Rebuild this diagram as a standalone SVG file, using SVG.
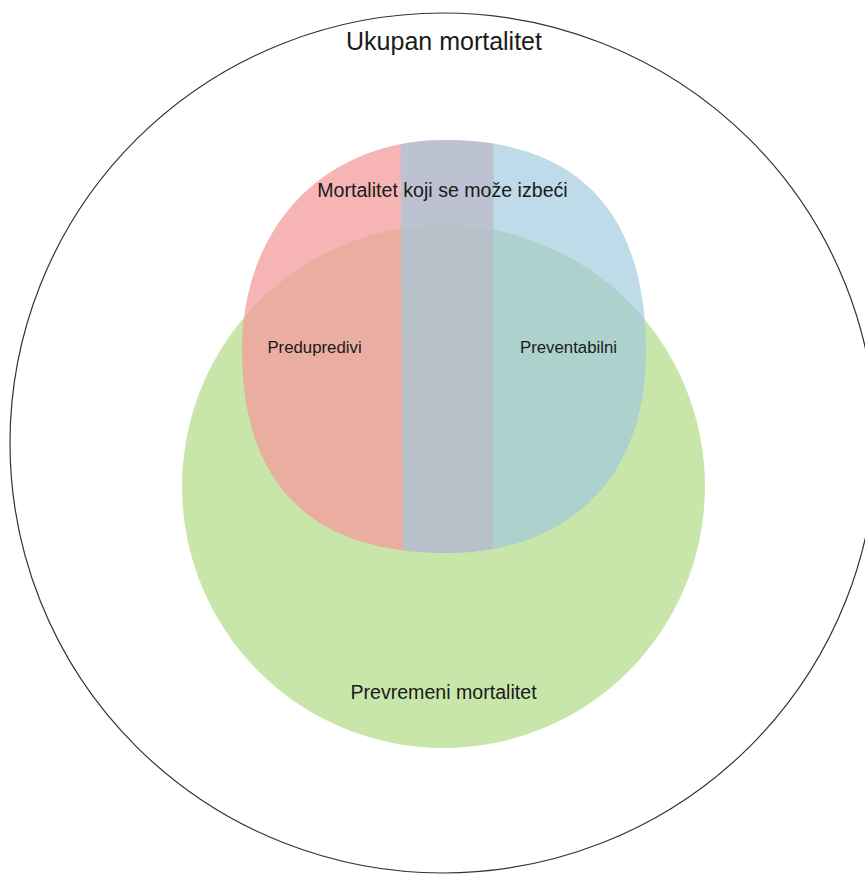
<svg xmlns="http://www.w3.org/2000/svg" width="865" height="874" viewBox="0 0 865 874">
  <style>
    .lbl { font-family: "Liberation Sans", Arial, sans-serif; fill: #1a1a1a; text-anchor: middle; }
  </style>
  <defs>
    <path id="blob" d="M445,140 C325,140 242,226 242,350 C242,484 311,553 445,553 C570,553 646,477 646,352 C646,212 578,140 445,140 Z"/>
    <clipPath id="clipLeft"><rect x="0" y="0" width="493.5" height="874"/></clipPath>
    <clipPath id="clipRight"><polygon points="400.5,100 865,100 865,600 403,600"/></clipPath>
  </defs>
  <rect width="865" height="874" fill="#ffffff"/>
  <g id="ukupan">
    <ellipse cx="443" cy="443" rx="433" ry="430" fill="none" stroke="#333333" stroke-width="1.2"/>
    <text class="lbl" x="444" y="50" font-size="25">Ukupan mortalitet</text>
  </g>
  <g id="prevremeni">
    <circle cx="443.5" cy="486.5" r="261.5" fill="#c8e6aa"/>
    <text class="lbl" x="443.5" y="699" font-size="19.6">Prevremeni mortalitet</text>
  </g>
  <g id="predupredivi">
    <use href="#blob" fill="#f49b9b" fill-opacity="0.75" clip-path="url(#clipLeft)"/>
    <text class="lbl" x="314.5" y="353" font-size="16.8">Predupredivi</text>
  </g>
  <g id="preventabilni">
    <use href="#blob" fill="#a1c9dd" fill-opacity="0.68" clip-path="url(#clipRight)"/>
    <text class="lbl" x="568.5" y="353" font-size="16.8">Preventabilni</text>
  </g>
  <g id="izbeci">
    <text class="lbl" x="442.5" y="197" font-size="19.6">Mortalitet koji se može izbeći</text>
  </g>
</svg>
